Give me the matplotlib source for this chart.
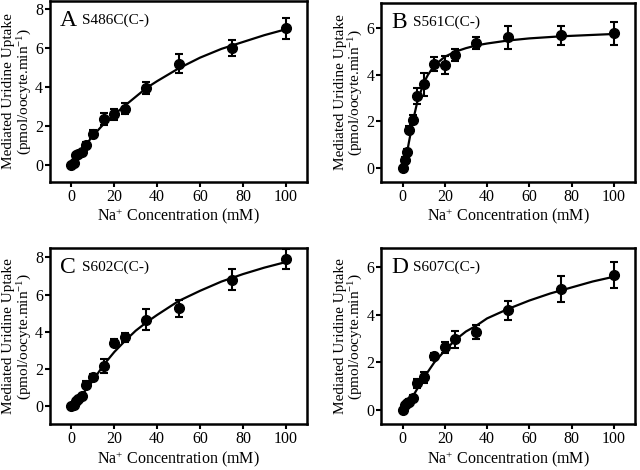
import numpy as np
import matplotlib as mpl
mpl.use('Agg')
import matplotlib.pyplot as plt

plt.rcParams['font.family'] = ['Liberation Serif', 'DejaVu Serif']
plt.rcParams['mathtext.fontset'] = 'custom'
plt.rcParams['mathtext.rm'] = 'Liberation Serif'
plt.rcParams['mathtext.it'] = 'Liberation Serif:italic'

#~~~~~~~~ Data ~~~~~~~~
conc = [0, 1, 2, 3, 5, 7, 10, 15, 20, 25, 35, 50, 75, 100]

uptake_A = [0, 0.1, 0.5, 0.6, 0.7, 1.05, 1.6, 2.35, 2.6, 2.9, 3.95, 5.2, 6.0, 7.0]
err_A = [0.05, 0.05, 0.1, 0.1, 0.1, 0.15, 0.2, 0.3, 0.3, 0.3, 0.3, 0.5, 0.4, 0.55]
fitx_A = [0, 5, 10, 15, 20, 25, 30, 35, 40, 50, 60, 70, 80, 90, 100]
fity_A = [0, 0.8, 1.5, 2.1, 2.6, 3.05, 3.5, 3.95, 4.3, 4.95, 5.5, 5.95, 6.3, 6.65, 6.95]

uptake_B = [0, 0.35, 0.7, 1.65, 2.08, 3.1, 3.6, 4.45, 4.42, 4.85, 5.38, 5.62, 5.7, 5.79]
err_B = [0.05, 0.1, 0.1, 0.15, 0.2, 0.35, 0.5, 0.3, 0.4, 0.25, 0.25, 0.5, 0.4, 0.5]
fitx_B = [0, 1, 2, 3, 5, 7, 10, 12, 15, 20, 25, 30, 35, 40, 50, 60, 75, 100]
fity_B = [0, 0.2, 0.6, 1.1, 2.05, 2.85, 3.65, 4.0, 4.4, 4.78, 5.0, 5.15, 5.27, 5.35, 5.48, 5.57, 5.66, 5.76]

uptake_C = [0, 0.05, 0.25, 0.35, 0.55, 1.15, 1.55, 2.15, 3.4, 3.7, 4.65, 5.25, 6.8, 7.9]
err_C = [0.05, 0.05, 0.1, 0.1, 0.1, 0.2, 0.15, 0.4, 0.2, 0.25, 0.55, 0.45, 0.55, 0.55]
fitx_C = [0, 5, 10, 15, 20, 25, 30, 35, 40, 50, 60, 70, 80, 90, 100]
fity_C = [0, 0.6, 1.35, 2.2, 2.9, 3.5, 4.05, 4.5, 4.9, 5.65, 6.2, 6.7, 7.1, 7.45, 7.75]

uptake_D = [0, 0.2, 0.3, 0.35, 0.52, 1.12, 1.37, 2.26, 2.63, 2.97, 3.29, 4.2, 5.1, 5.68]
err_D = [0.05, 0.05, 0.05, 0.1, 0.1, 0.2, 0.25, 0.15, 0.25, 0.35, 0.3, 0.4, 0.55, 0.55]
fitx_D = [0, 5, 10, 15, 20, 25, 30, 35, 40, 50, 60, 70, 80, 90, 100]
fity_D = [0, 0.6, 1.35, 2.0, 2.5, 2.95, 3.3, 3.55, 3.85, 4.25, 4.6, 4.9, 5.15, 5.4, 5.6]

letters = ['A', 'B', 'C', 'D']
mutants = ['S486C(C-)', 'S561C(C-)', 'S602C(C-)', 'S607C(C-)']
#~~~~~~~~~~~~~~~~~~~~~~~~~~~~~~~~~~~~~~~~~~~~~

panels = [
    (uptake_A, err_A, fitx_A, fity_A, [0.078, 0.613, 0.402, 0.385], (-0.85, 8.4), [0, 2, 4, 6, 8]),
    (uptake_B, err_B, fitx_B, fity_B, [0.596, 0.613, 0.396, 0.381], (-0.6, 7.1), [0, 2, 4, 6]),
    (uptake_C, err_C, fitx_C, fity_C, [0.078, 0.097, 0.402, 0.375], (-1.0, 8.5), [0, 2, 4, 6, 8]),
    (uptake_D, err_D, fitx_D, fity_D, [0.596, 0.097, 0.396, 0.375], (-0.6, 6.8), [0, 2, 4, 6]),
]

fig = plt.figure(figsize=(6.4, 4.7), dpi=100)

for i, (y, e, fx, fy, rect, ylim, yt) in enumerate(panels):
    ax = fig.add_axes(rect)
    ax.plot(fx, fy, '-', color='black', lw=1.6)
    ax.errorbar(conc, y, yerr=e, fmt='o', color='black', ms=7,
                capsize=3, elinewidth=1.5, capthick=1.5)
    ax.set_xlim(-10, 110)
    ax.set_ylim(*ylim)
    ax.set_xticks([0, 20, 40, 60, 80, 100])
    ax.set_yticks(yt)
    for s in ax.spines.values():
        s.set_linewidth(1.8)
    ax.tick_params(direction='out', width=1.5, length=3.5, pad=1.5,
                   labelsize=11.5, top=False, right=False)
    ax.set_xlabel('Na$^{+}$ Concentration (mM)', fontsize=11.5)
    ax.set_ylabel('Mediated Uridine Uptake\n(pmol/oocyte.min$^{-1}$)',
                  fontsize=11, linespacing=1.05)
    w_px = rect[2] * 640
    h_px = rect[3] * 470
    ax.yaxis.set_label_coords(-16 / w_px, 0.5)
    ax.xaxis.set_label_coords(0.5, -24.5 / h_px)
    ax.text(0.04, 0.95, letters[i], transform=ax.transAxes, fontsize=17,
            va='top', ha='left')
    ax.text(0.125, 0.93, mutants[i], transform=ax.transAxes, fontsize=11,
            va='top', ha='left')

plt.savefig('out.png', dpi=100)
